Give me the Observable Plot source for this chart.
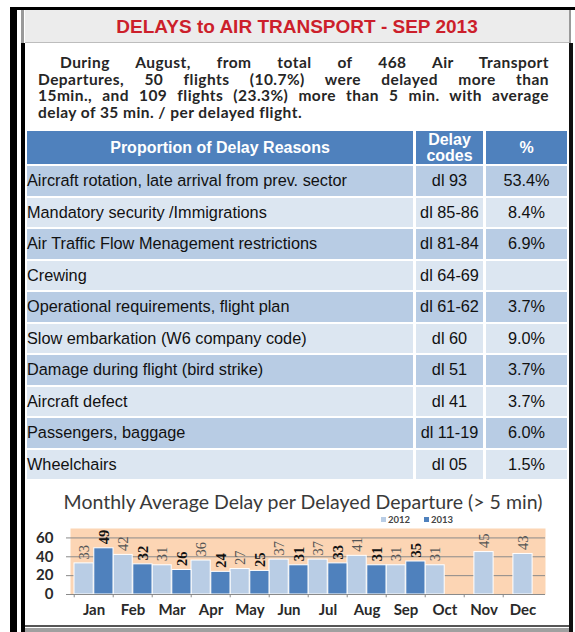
<!DOCTYPE html>
<html><head><meta charset="utf-8">
<script src="https://cdn.jsdelivr.net/npm/d3@7"></script>
<script src="https://cdn.jsdelivr.net/npm/@observablehq/plot@0.6"></script>
<style>
html,body{margin:0;padding:0;background:#fff;}
#page{position:relative;width:575px;height:632px;overflow:hidden;font-family:"Liberation Sans",Arial,sans-serif;}
.a{position:absolute;}
.para{font-family:Lato,"Open Sans",sans-serif;font-weight:700;font-size:15.5px;letter-spacing:0.45px;color:#262626;line-height:16px;}
.jl{text-align:justify;text-align-last:justify;white-space:nowrap;}
#grid{display:grid;grid-template-columns:386px 67px 81px;column-gap:3px;row-gap:2px;grid-template-rows:33px repeat(10,29.5px);}
.hd{background:#4f81bd;color:#fff;font-weight:700;font-size:16px;display:flex;align-items:center;justify-content:center;text-align:center;line-height:15.5px;}
.c{font-size:16.3px;color:#111;display:flex;align-items:center;}
.c1{padding-left:0px;}
.cc{justify-content:center;}
.dark{background:#b8cce4;}
.light{background:#dce6f1;}
</style></head><body>
<div id="page"></div>
<script>
// ---------- data ----------
const title = "DELAYS to AIR TRANSPORT - SEP 2013";
const paraLines = [
  "During  August,  from   total  of 468  Air Transport",
  "Departures, 50  flights (10.7%) were delayed more than",
  "15min., and 109 flights (23.3%) more than 5 min. with average",
  "delay of  35 min. / per  delayed flight."
];
const headers = ["Proportion of Delay Reasons", "Delay<br>codes", "%"];
const reasons = [
  "Aircraft rotation, late arrival from prev. sector",
  "Mandatory security /Immigrations",
  "Air Traffic Flow Menagement restrictions",
  "Crewing",
  "Operational requirements, flight plan",
  "Slow embarkation (W6 company code)",
  "Damage during flight (bird strike)",
  "Aircraft defect",
  "Passengers, baggage",
  "Wheelchairs"
];
const codes = ["dl 93","dl 85-86","dl 81-84","dl 64-69","dl 61-62","dl 60","dl 51","dl 41","dl 11-19","dl 05"];
const pcts = ["53.4%","8.4%","6.9%","","3.7%","9.0%","3.7%","3.7%","6.0%","1.5%"];

const chartTitle = "Monthly Average Delay per Delayed Departure (> 5 min)";
const months = ["Jan","Feb","Mar","Apr","May","Jun","Jul","Aug","Sep","Oct","Nov","Dec"];
const delay2012 = [33,42,31,36,27,37,37,41,31,31,45,43];
const delay2013 = [49,32,26,24,25,31,33,31,35]; // Jan–Sep
const years = ["2012","2013"];
const yearColors = ["#b9cde5","#4f81bd"];
const yTicks = [0,20,40,60];
const singleBarMonths = ["Nov","Dec"];

// ---------- page frame ----------
const page = document.getElementById("page");
function box(css, html) {
  const d = document.createElement("div");
  d.className = "a";
  d.style.cssText = css;
  if (html !== undefined) d.innerHTML = html;
  page.appendChild(d);
  return d;
}
box("left:10px;top:7px;width:565px;height:3px;background:#000;");
box("left:10px;top:7px;width:7px;height:625px;background:#000;");
box("left:21px;top:10px;width:3px;height:33px;background:#9a9a9a;");
box("left:21px;top:43px;width:4px;height:589px;background:#000;");
box("left:569px;top:10px;width:2px;height:33px;background:#9a9a9a;");
box("left:569px;top:43px;width:4px;height:589px;background:#111;");
box("left:25px;top:10px;width:544px;height:32px;background:#ececec;border-bottom:1px solid #bdbdbd;");
box("left:25px;top:11px;width:544px;height:32px;display:flex;align-items:center;justify-content:center;color:#cc1f2b;font-weight:700;font-size:19px;", title);
box("left:25px;top:625px;width:544px;height:2px;background:#555;");
box("left:25px;top:628px;width:544px;height:4px;background:#a0a0a0;");

// paragraph
paraLines.forEach((t, i) => {
  const last = i === paraLines.length - 1;
  const left = i === 0 ? 60 : 38;
  const d = box(`left:${left}px;top:${54 + i * 16.7}px;width:${549 - left}px;`);
  d.classList.add("para");
  if (!last) d.classList.add("jl");
  d.textContent = t;
});

// table
const grid = box("left:27px;top:131px;width:540px;");
grid.id = "grid";
headers.forEach(h => {
  const c = document.createElement("div");
  c.className = "hd";
  c.innerHTML = h;
  grid.appendChild(c);
});
reasons.forEach((r, i) => {
  const cls = i % 2 === 0 ? "dark" : "light";
  [[r, "c c1"], [codes[i], "c cc"], [pcts[i], "c cc"]].forEach(([t, k]) => {
    const c = document.createElement("div");
    c.className = k + " " + cls;
    c.textContent = t;
    grid.appendChild(c);
  });
});

// chart title + legend
box("left:33px;top:490px;width:540px;text-align:center;font-family:Lato,sans-serif;font-size:19.5px;color:#3a3a3a;", chartTitle);
const leg = box("left:381px;top:514px;display:flex;gap:14px;font-family:Lato,sans-serif;font-weight:700;font-size:9.5px;color:#444;");
years.forEach((y, i) => {
  const s = document.createElement("span");
  s.style.cssText = "display:flex;align-items:center;gap:2px;";
  s.innerHTML = `<span style="display:inline-block;width:5px;height:5px;background:${yearColors[i]}"></span>${y}`;
  leg.appendChild(s);
});

// ---------- bar chart ----------
const W = 540, ML = 43, MR = 22;
const B = (W - ML - MR) / months.length;
const rows2012 = months.map((m, i) => ({month: m, year: "2012", value: delay2012[i]}));
const rows2013 = delay2013.map((v, i) => ({month: months[i], year: "2013", value: v}));
const pair2012 = rows2012.filter(d => !singleBarMonths.includes(d.month));
const single2012 = rows2012.filter(d => singleBarMonths.includes(d.month));

const barOpts = (fill, dx) => ({x: "month", y: "value", fill, stroke: "#fff", strokeWidth: 1,
  insetLeft: B / 4, insetRight: B / 4, dx});
const lblOpts = (dx, bold) => ({x: "month", y: "value", text: d => String(d.value), rotate: -90,
  textAnchor: "start", dx, dy: -4, fontFamily: "Liberation Serif, serif", fontSize: 14.5,
  fontWeight: bold ? "bold" : "normal", fill: bold ? "#111" : "#555"});

const chart = Plot.plot({
  width: W, height: 116,
  marginLeft: ML, marginRight: MR, marginTop: 16, marginBottom: 34,
  x: {domain: months, padding: 0, label: null},
  y: {domain: [0, 70], label: null},
  style: {fontFamily: "Lato, sans-serif", background: "transparent", overflow: "visible"},
  marks: [
    Plot.frame({fill: "#fcd5b4", stroke: null}),
    Plot.gridY(yTicks.slice(1), {stroke: "#8a8a8a", strokeOpacity: 1}),
    Plot.barY(pair2012, barOpts(yearColors[0], -B / 4)),
    Plot.barY(single2012, barOpts(yearColors[0], 0)),
    Plot.barY(rows2013, barOpts(yearColors[1], B / 4)),
    Plot.ruleY([0], {stroke: "#8a8a8a"}),
    Plot.ruleX(months, {x: d => d, dx: -B / 2, y1: 0, y2: -3.5, stroke: "#8a8a8a"}),
    Plot.text(pair2012, lblOpts(-B / 4, false)),
    Plot.text(single2012, lblOpts(0, false)),
    Plot.text(rows2013, lblOpts(B / 4, true)),
    Plot.axisY(yTicks, {tickSize: 4, tickPadding: 13, fontSize: 15, fontWeight: "bold", fill: "#2a2a2a", stroke: "#8a8a8a", label: null}),
    Plot.axisX({tickSize: 0, tickPadding: 10, fontSize: 15, fontWeight: "bold", fill: "#2a2a2a", label: null})
  ]
});
chart.style.position = "absolute";
chart.style.left = "27px";
chart.style.top = "512px";
page.appendChild(chart);
</script>
</body></html>
